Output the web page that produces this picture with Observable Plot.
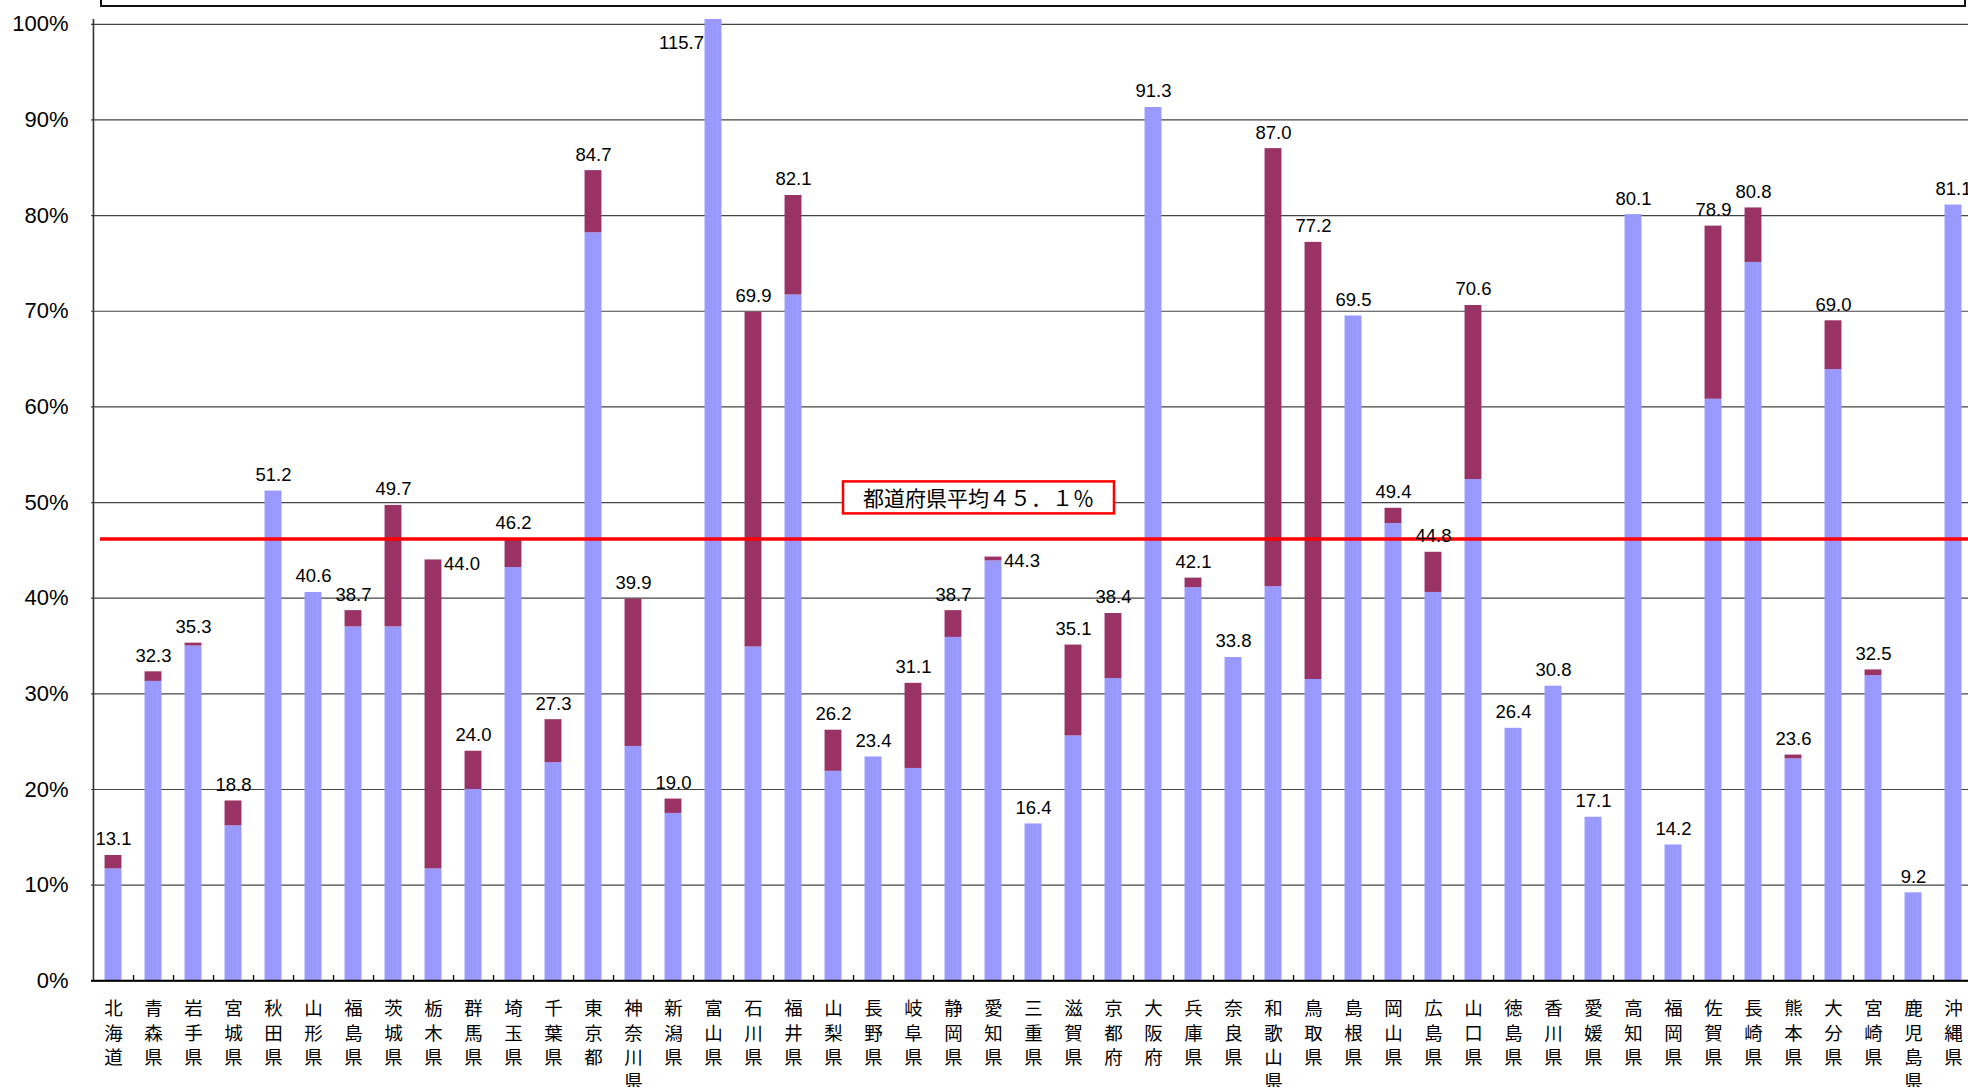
<!DOCTYPE html>
<html><head><meta charset="utf-8">
<script src="https://cdn.jsdelivr.net/npm/d3@7"></script>
<script src="https://cdn.jsdelivr.net/npm/@observablehq/plot@0.6"></script>
<style>
html,body{margin:0;padding:0;background:#fff;overflow:hidden;width:1968px;height:1087px;}
#wrap{position:relative;width:1968px;height:1087px;overflow:hidden;}
#topbox{position:absolute;left:100px;top:-40px;width:1862px;height:43px;border:2px solid #111;z-index:2;background:#fff;}
#chart{position:absolute;left:0;top:0;width:1990px;z-index:1;}
#chart svg{max-width:none !important;}
</style></head><body>
<div id="wrap"><div id="topbox"></div><div id="chart"></div></div>
<script>
const prefectures = ["北海道","青森県","岩手県","宮城県","秋田県","山形県","福島県","茨城県","栃木県","群馬県","埼玉県","千葉県","東京都","神奈川県","新潟県","富山県","石川県","福井県","山梨県","長野県","岐阜県","静岡県","愛知県","三重県","滋賀県","京都府","大阪府","兵庫県","奈良県","和歌山県","鳥取県","島根県","岡山県","広島県","山口県","徳島県","香川県","愛媛県","高知県","福岡県","佐賀県","長崎県","熊本県","大分県","宮崎県","鹿児島県","沖縄県"];
const totals = [13.1,32.3,35.3,18.8,51.2,40.6,38.7,49.7,44.0,24.0,46.2,27.3,84.7,39.9,19.0,115.7,69.9,82.1,26.2,23.4,31.1,38.7,44.3,16.4,35.1,38.4,91.3,42.1,33.8,87.0,77.2,69.5,49.4,44.8,70.6,26.4,30.8,17.1,80.1,14.2,78.9,80.8,23.6,69.0,32.5,9.2,81.1];
const lowerPart = [11.7,31.3,35.0,16.2,51.2,40.6,37.0,37.0,11.7,20.0,43.2,22.8,78.2,24.5,17.5,115.7,34.9,71.7,21.9,23.4,22.2,35.9,43.9,16.4,25.6,31.6,91.3,41.1,33.8,41.2,31.5,69.5,47.8,40.6,52.4,26.4,30.8,17.1,80.1,14.2,60.8,75.1,23.2,63.9,31.9,9.2,81.1];
const yTicks = [0,10,20,30,40,50,60,70,80,90,100];
const averageLine = 46.2;
const averageLabel = "都道府県平均４５．１％";

const rows = prefectures.map((p, i) => ({pref: p, total: totals[i], lower: lowerPart[i], upper: +(totals[i] - lowerPart[i]).toFixed(1)}));
const stacked = rows.flatMap(r => [
  {pref: r.pref, part: "lower", value: r.lower},
  {pref: r.pref, part: "upper", value: r.upper}
]);
const rightLabeled = new Set(["栃木県", "愛知県"]);
const yMax = 100.5;

const W = 1990, ML = 91, MR = 14.3, MT = 19, H = 1087, MB = 1087 - 980.3;
const band = (W - ML - MR) / prefectures.length;
const barW = 17;

const normalRows = rows.filter(r => r.total <= 100 && !rightLabeled.has(r.pref));
const rightRows = rows.filter(r => r.total <= 100 && rightLabeled.has(r.pref));
const overRows = rows.filter(r => r.total > 100);

const numFont = "'Liberation Sans', Arial, sans-serif";
const chart = Plot.plot({
  width: W, height: H,
  marginLeft: ML, marginRight: MR, marginTop: MT, marginBottom: MB,
  style: {fontFamily: numFont, background: "#fff", color: "#000"},
  x: {type: "band", domain: prefectures, padding: 0, label: null},
  y: {domain: [0, yMax], label: null},
  color: {domain: ["lower", "upper"], range: ["#9999FF", "#993366"]},
  marks: [
    Plot.gridY(yTicks, {stroke: "#444", strokeOpacity: 1, strokeWidth: 1.2}),
    Plot.barY(stacked, {x: "pref", y: "value", fill: "part", order: ["lower", "upper"], insetLeft: (band - barW) / 2, insetRight: (band - barW) / 2, clip: true}),
    Plot.ruleY([averageLine], {stroke: "#FF0000", strokeWidth: 3.5, insetLeft: 9}),
    Plot.ruleX(prefectures, {x: d => d, y1: 0, y2: 0.55, dx: band / 2, stroke: "#000", strokeWidth: 1.3}),
    Plot.ruleY([0], {stroke: "#000", strokeWidth: 2}),
    Plot.ruleX([prefectures[0]], {x: d => d, y1: 0, y2: yMax, dx: -band / 2, stroke: "#333", strokeWidth: 1.6}),
    Plot.axisY(yTicks, {tickSize: 0, tickPadding: 23, tickFormat: d => d + "%", fontSize: 22, fill: "#000"}),
    Plot.axisX({tickSize: 0, tickPadding: 17, tickFormat: d => d.split("").join("\n"), fontSize: 18.5, lineHeight: 1.32, fill: "#000", fontFamily: "'Noto Sans CJK JP', sans-serif"}),
    Plot.text(normalRows, {x: "pref", y: "total", text: d => d.total.toFixed(1), dy: -10, lineAnchor: "bottom", fontSize: 18.5, fill: "#000"}),
    Plot.text(rightRows, {x: "pref", y: "total", text: d => d.total.toFixed(1), dx: barW / 2 + 2, dy: 4, textAnchor: "start", lineAnchor: "middle", fontSize: 18.5, fill: "#000"}),
    Plot.text(overRows, {x: "pref", y: d => Math.min(d.total, yMax - 2.5), text: d => d.total.toFixed(1), dx: -barW / 2 - 1, textAnchor: "end", lineAnchor: "middle", fontSize: 18.5, fill: "#000"}),
    Plot.text([averageLabel], {x: () => "愛知県", y: () => 50.3, text: d => d, dx: -15, lineAnchor: "middle", fontSize: 21, fill: "#000", fontFamily: "'Noto Sans CJK JP', sans-serif", className: "avg-label"})
  ]
});
document.getElementById("chart").appendChild(chart);

// box around the average label
const t = chart.querySelector("g.avg-label text");
if (t) {
  const bb = t.getBBox();
  const padX = 20, padY = 1;
  const rect = document.createElementNS("http://www.w3.org/2000/svg", "rect");
  rect.setAttribute("x", bb.x - padX);
  rect.setAttribute("y", bb.y - padY);
  rect.setAttribute("width", bb.width + 2 * padX);
  rect.setAttribute("height", bb.height + 2 * padY);
  rect.setAttribute("fill", "#fff");
  rect.setAttribute("stroke", "#FF0000");
  rect.setAttribute("stroke-width", 2.5);
  const g = t.parentNode;
  const tr = t.getAttribute("transform");
  if (tr) rect.setAttribute("transform", tr);
  g.insertBefore(rect, t);
}
</script>
</body></html>
